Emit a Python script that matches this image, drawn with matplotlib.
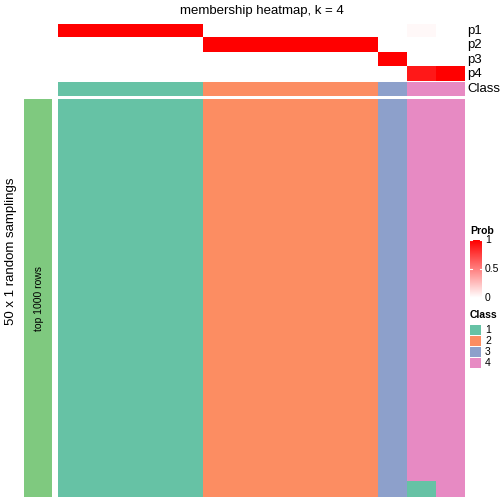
import numpy as np
import matplotlib
matplotlib.use("Agg")
import matplotlib.pyplot as plt
from matplotlib.colors import LinearSegmentedColormap, ListedColormap
from matplotlib.patches import Rectangle

plt.rcParams['font.family'] = ['Liberation Sans', 'DejaVu Sans']

# membership probabilities per column (14 samples)
p1 = [1, 1, 1, 1, 1, 0, 0, 0, 0, 0, 0, 0, 0.03, 0]
p2 = [0, 0, 0, 0, 0, 1, 1, 1, 1, 1, 1, 0, 0, 0]
p3 = [0, 0, 0, 0, 0, 0, 0, 0, 0, 0, 0, 1, 0, 0]
p4 = [0, 0, 0, 0, 0, 0, 0, 0, 0, 0, 0, 0, 0.9, 1]
prob_rows = ["p1", "p2", "p3", "p4"]
sample_class = [1, 1, 1, 1, 1, 2, 2, 2, 2, 2, 2, 3, 4, 4]

# 50 random samplings: class assigned to each sample
n_samplings = 50
membership = np.tile(sample_class, (n_samplings, 1))
membership[48:, 12] = 1

class_labels = ["1", "2", "3", "4"]
class_colors = ["#66C2A5", "#FC8D62", "#8DA0CB", "#E78AC3"]
prob_cmap = LinearSegmentedColormap.from_list("prob", ["white", "red"])
class_cmap = ListedColormap(class_colors)

W = H = 504.0
fig = plt.figure(figsize=(5.04, 5.04), dpi=100)


def px_axes(x0, y0, x1, y1):
    ax = fig.add_axes([x0 / W, 1 - y1 / H, (x1 - x0) / W, (y1 - y0) / H])
    ax.set_axis_off()
    return ax


hx0, hx1 = 58, 464.5

# probability annotation
ax_p = px_axes(hx0, 24, hx1, 81)
ax_p.imshow(np.array([p1, p2, p3, p4]), cmap=prob_cmap, vmin=0, vmax=1,
            aspect="auto", interpolation="nearest")
for i, lab in enumerate(prob_rows):
    fig.text(467 / W, 1 - (31 + i * 14.25) / H, lab, fontsize=9.5, va="center", ha="left")

# class annotation
ax_c = px_axes(hx0, 82, hx1, 96)
ax_c.imshow(np.array([sample_class]) - 1, cmap=class_cmap, vmin=-0.5, vmax=3.5,
            aspect="auto", interpolation="nearest")
fig.text(467 / W, 1 - 89 / H, "Class", fontsize=9.5, va="center", ha="left")

# main membership heatmap
ax_m = px_axes(hx0, 99, hx1, 497)
ax_m.imshow(membership - 1, cmap=class_cmap, vmin=-0.5, vmax=3.5,
            aspect="auto", interpolation="nearest")

# left row annotation
ax_l = px_axes(24, 99, 52, 497)
ax_l.add_patch(Rectangle((0, 0), 1, 1, color="#7FC97F"))
ax_l.set_xlim(0, 1)
ax_l.set_ylim(0, 1)
ax_l.text(0.55, 0.5, "top 1000 rows", rotation=90, fontsize=7.5, ha="center", va="center")

fig.text(11 / W, 1 - 251 / H, "50 x 1 random samplings", rotation=90, fontsize=9.5,
         ha="center", va="center")

fig.text(262 / W, 1 - 11 / H, "membership heatmap, k = 4", fontsize=9.5,
         ha="center", va="center")

# Prob colorbar legend
fig.text(470 / W, 1 - 231 / H, "Prob", fontsize=7.5, fontweight="bold", va="center")
ax_cb = px_axes(470, 240, 482, 298)
grad = np.linspace(1, 0, 100).reshape(-1, 1)
ax_cb.imshow(grad, cmap=prob_cmap, vmin=0, vmax=1, aspect="auto",
             extent=[0, 1, 0, 1])
ax_cb.set_xlim(0, 1)
ax_cb.set_ylim(0, 1)
for v in [0, 0.5, 1]:
    ax_cb.plot([0, 0.2], [v, v], color="white", lw=0.8)
    ax_cb.plot([0.8, 1], [v, v], color="white", lw=0.8)
for v, lab in [(1, "1"), (0.5, "0.5"), (0, "0")]:
    fig.text(485 / W, 1 - (298 - v * 58) / H, lab, fontsize=7.5, va="center")

# Class legend
fig.text(470 / W, 1 - 315 / H, "Class", fontsize=7.5, fontweight="bold", va="center")
for i, (lab, col) in enumerate(zip(class_labels, class_colors)):
    y0 = 325 + i * 11
    ax_k = px_axes(470, y0, 481, y0 + 10)
    ax_k.add_patch(Rectangle((0, 0), 1, 1, color=col))
    ax_k.set_xlim(0, 1)
    ax_k.set_ylim(0, 1)
    fig.text(485 / W, 1 - (y0 + 5) / H, lab, fontsize=7.5, va="center")

fig.savefig("out.png", dpi=100)
